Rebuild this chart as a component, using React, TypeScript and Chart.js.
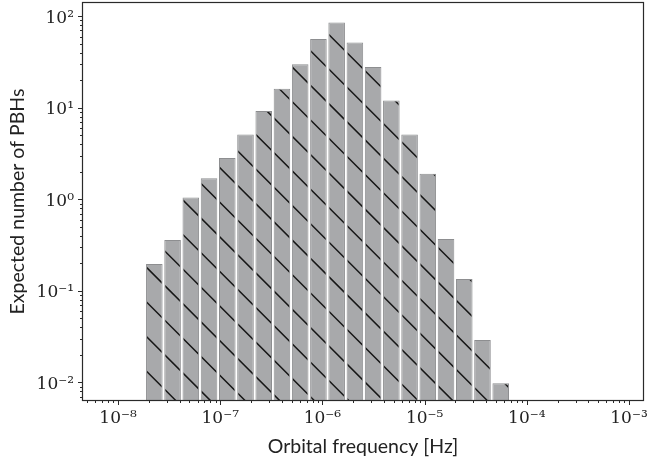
import React, { useEffect, useRef } from "react";
import { Chart, registerables } from "chart.js";

Chart.register(...registerables);

// Histogram bin centres (orbital frequency, Hz) – log-uniform bins
const binCentersHz = [
  2.265e-8, 3.417e-8, 5.152e-8, 7.771e-8, 1.172e-7, 1.767e-7, 2.665e-7,
  4.018e-7, 6.06e-7, 9.138e-7, 1.378e-6, 2.078e-6, 3.133e-6, 4.725e-6,
  7.125e-6, 1.074e-5, 1.62e-5, 2.443e-5, 3.684e-5, 5.555e-5,
];
// Expected number of PBHs in each bin
const expectedCounts = [
  0.197, 0.36, 1.05, 1.7, 2.83, 5.1, 9.2, 16.2, 29.9, 56.5, 85.3, 51.6, 27.9,
  12.0, 5.1, 1.91, 0.37, 0.135, 0.029, 0.0098,
];
// Tick labels (powers of ten)
const xTickExponents = [-8, -7, -6, -5, -4, -3];
const yTickExponents = [-2, -1, 0, 1, 2];
const xRange = [4.54e-9, 1.371e-3];
const yRange = [6.43e-3, 139.6];

const xTitle = "Orbital frequency [Hz]";
const yTitle = "Expected number of PBHs";

const SUP: Record<string, string> = {
  "-": "\u207B",
  "0": "\u2070",
  "1": "\u00B9",
  "2": "\u00B2",
  "3": "\u00B3",
  "4": "\u2074",
  "5": "\u2075",
  "6": "\u2076",
  "7": "\u2077",
  "8": "\u2078",
  "9": "\u2079",
};
const powLabel = (v: number) => {
  const e = Math.round(Math.log10(v));
  return "10" + String(e).split("").map((c) => SUP[c] ?? c).join("");
};

function makeHatch(): CanvasPattern | string {
  const period = 34.6;
  const size = 173; // 5 periods
  const phase = 17.5;
  const c = document.createElement("canvas");
  c.width = size;
  c.height = size;
  const g = c.getContext("2d");
  if (!g) return "#a8a9ab";
  g.fillStyle = "#a8a9ab";
  g.fillRect(0, 0, size, size);
  g.strokeStyle = "#161616";
  g.lineWidth = 1.5;
  g.beginPath();
  for (let d = phase - 2 * size; d < 2 * size; d += period) {
    g.moveTo(d - 10, -10);
    g.lineTo(d + size + 10, size + 10);
  }
  g.stroke();
  const p = g.createPattern(c, "repeat");
  return p ?? "#a8a9ab";
}

const axesPlugin = {
  id: "axesFrame",
  afterDraw(chart: any) {
    const { ctx, chartArea: a, scales } = chart;
    const xs = scales.x;
    const ys = scales.y;
    ctx.save();
    ctx.strokeStyle = "#2a2a2a";
    ctx.lineWidth = 1;
    ctx.beginPath();
    const minorVals = (lo: number, hi: number) => {
      const out: { v: number; major: boolean }[] = [];
      for (let e = Math.floor(Math.log10(lo)); e <= Math.ceil(Math.log10(hi)); e++) {
        for (let k = 1; k <= 9; k++) {
          const v = k * Math.pow(10, e);
          if (v >= lo && v <= hi) out.push({ v, major: k === 1 });
        }
      }
      return out;
    };
    for (const t of minorVals(xs.min, xs.max)) {
      const px = Math.round(xs.getPixelForValue(t.v)) + 0.5;
      ctx.moveTo(px, a.bottom);
      ctx.lineTo(px, a.bottom + (t.major ? 5 : 3));
    }
    for (const t of minorVals(ys.min, ys.max)) {
      const py = Math.round(ys.getPixelForValue(t.v)) + 0.5;
      ctx.moveTo(a.left, py);
      ctx.lineTo(a.left - (t.major ? 5 : 3), py);
    }
    ctx.stroke();
    ctx.lineWidth = 1.2;
    ctx.strokeRect(a.left - 0.5, a.top - 0.5, a.right - a.left + 1, a.bottom - a.top + 1);
    ctx.restore();
  },
};

export default function App() {
  const ref = useRef<HTMLCanvasElement | null>(null);
  useEffect(() => {
    document.body.style.margin = "0";
    const canvas = ref.current;
    if (!canvas) return;
    const hatch = makeHatch();
    const chart = new Chart(canvas, {
      type: "bar",
      data: {
        datasets: [
          {
            data: binCentersHz.map((x, i) => ({ x, y: expectedCounts[i] })),
            backgroundColor: hatch as any,
            borderColor: "#8d8e90",
            borderWidth: 1,
            borderSkipped: "start",
            barPercentage: 0.91,
            categoryPercentage: 1,
          },
        ],
      },
      options: {
        responsive: false,
        maintainAspectRatio: false,
        animation: false,
        layout: { padding: { top: 3, right: 4, left: 0, bottom: 0 } },
        plugins: { legend: { display: false }, tooltip: { enabled: false } },
        scales: {
          x: {
            type: "logarithmic",
            min: xRange[0],
            max: xRange[1],
            offset: false,
            grid: { display: false, drawTicks: false },
            border: { display: false },
            afterBuildTicks: (s: any) => {
              s.ticks = xTickExponents.map((e) => ({ value: Math.pow(10, e), major: true }));
            },
            afterFit: (s: any) => {
              s.height = 66;
              s.paddingLeft = 0;
              s.paddingRight = 0;
            },
            ticks: {
              autoSkip: false,
              maxRotation: 0,
              padding: 8,
              color: "#222",
              font: { family: "'DejaVu Serif'", size: 17 },
              callback: (v: any) => powLabel(Number(v)),
            },
            title: {
              display: true,
              text: xTitle,
              color: "#222",
              font: { family: "Lato", size: 19.5 },
              padding: { top: 0, bottom: 8 },
            },
          },
          y: {
            type: "logarithmic",
            min: yRange[0],
            max: yRange[1],
            grid: { display: false, drawTicks: false },
            border: { display: false },
            afterBuildTicks: (s: any) => {
              s.ticks = yTickExponents.map((e) => ({ value: Math.pow(10, e), major: true }));
            },
            afterFit: (s: any) => {
              s.width = 83;
              s.paddingTop = 0;
              s.paddingBottom = 0;
            },
            ticks: {
              autoSkip: false,
              padding: 9,
              labelOffset: 2,
              color: "#222",
              font: { family: "'DejaVu Serif'", size: 17 },
              callback: (v: any) => powLabel(Number(v)),
            },
            title: {
              display: true,
              text: yTitle,
              color: "#222",
              font: { family: "Lato", size: 19.5 },
              padding: { top: 6, bottom: 0 },
            },
          },
        },
      },
      plugins: [axesPlugin],
    });
    return () => chart.destroy();
  }, []);
  return (
    <div style={{ width: 647, height: 466 }}>
      <canvas ref={ref} width={647} height={466} style={{ width: 647, height: 466, display: "block" }} />
    </div>
  );
}
